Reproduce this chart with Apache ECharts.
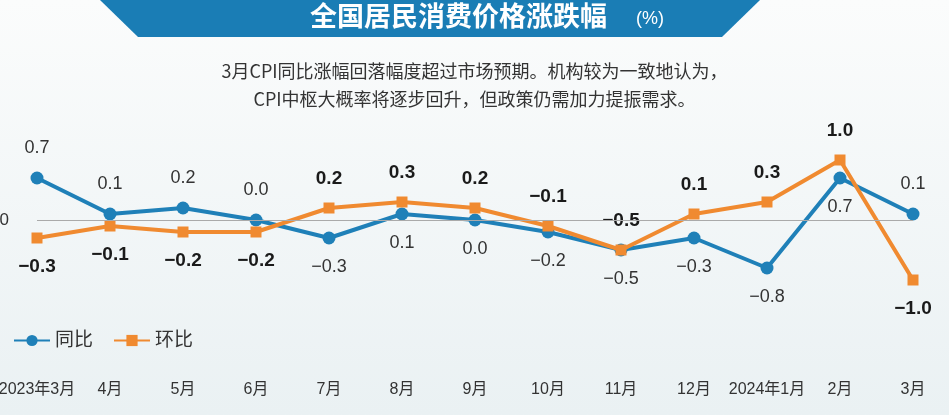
<!DOCTYPE html>
<html><head><meta charset="utf-8">
<script src="https://cdn.jsdelivr.net/npm/echarts@6/dist/echarts.min.js"></script>
<style>html,body{margin:0;padding:0}#c{width:949px;height:415px;background:linear-gradient(#fbfcfc,#eaf1f3)}</style>
</head><body><div id="c"></div>
<script>
const categories=['2023年3月','4月','5月','6月','7月','8月','9月','10月','11月','12月','2024年1月','2月','3月'];
const yoy=[0.7,0.1,0.2,0.0,-0.3,0.1,0.0,-0.2,-0.5,-0.3,-0.8,0.7,0.1];
const mom=[-0.3,-0.1,-0.2,-0.2,0.2,0.3,0.2,-0.1,-0.5,0.1,0.3,1.0,-1.0];
const yoyLabelPos=['top','top','top','top','bottom','bottom','bottom','bottom','bottom','bottom','bottom','bottom','top'];
const momLabelPos=['bottom','bottom','bottom','bottom','top','top','top','top','top','top','top','top','bottom'];
const font='"Liberation Sans","Noto Sans CJK SC",sans-serif';
const fmt=v=>v.toFixed(1).replace('-','−');
const chart=echarts.init(document.getElementById('c'));
chart.setOption({
  animation:false,
  textStyle:{fontFamily:font},
  grid:{left:37,right:36,top:130,height:180,containLabel:false,outerBoundsMode:'none'},
  graphic:[
    {type:'polygon',shape:{points:[[100,0],[760,0],[722,37],[138,37]]},style:{fill:'#1a7db5'}},
    {type:'text',left:310,top:2,style:{text:'全国居民消费价格涨跌幅',fill:'#fff',font:'bold 27px "Noto Sans CJK SC"'}},
    {type:'text',left:636,top:10,style:{text:'(%)',fill:'#fff',font:'18px "Liberation Sans"'}},
    {type:'text',left:'center',top:62,style:{text:'3月CPI同比涨幅回落幅度超过市场预期。机构较为一致地认为，',fill:'#333',font:'18px "Noto Sans CJK SC"'}},
    {type:'text',left:'center',top:90,style:{text:'CPI中枢大概率将逐步回升，但政策仍需加力提振需求。',fill:'#333',font:'18px "Noto Sans CJK SC"'}}
  ],
  legend:{left:8,top:326,itemWidth:36,itemHeight:14,itemGap:20,textStyle:{fontSize:19,color:'#333',fontFamily:font},
    data:['同比','环比']},
  xAxis:{type:'category',data:categories,boundaryGap:false,
    axisLine:{show:false},axisTick:{show:false},
    axisLabel:{margin:72,fontSize:16,color:'#333',interval:0}},
  yAxis:{type:'value',min:-1.5,max:1.5,interval:0.5,
    axisLabel:{margin:28,fontSize:17,color:'#333',formatter:v=>v===0?'0':''},
    splitLine:{show:false}},
  series:[
    {name:'同比',type:'line',color:'#1f80b8',symbol:'circle',symbolSize:13,lineStyle:{width:4},
     markLine:{silent:true,symbol:'none',label:{show:false},lineStyle:{color:'#aaa',width:1,type:'solid'},data:[{yAxis:0}]},
     data:yoy.map((v,i)=>({value:v,label:{show:true,position:yoyLabelPos[i],distance:14,formatter:fmt(v),fontSize:18,color:'#333',fontFamily:font}})),z:3},
    {name:'环比',type:'line',color:'#f08a30',symbol:'rect',symbolSize:11,lineStyle:{width:4},
     data:mom.map((v,i)=>({value:v,label:{show:true,position:momLabelPos[i],distance:14,formatter:fmt(v),fontSize:19,fontWeight:'bold',color:'#1a1a1a',fontFamily:font}})),z:4}
  ]
});
</script></body></html>
